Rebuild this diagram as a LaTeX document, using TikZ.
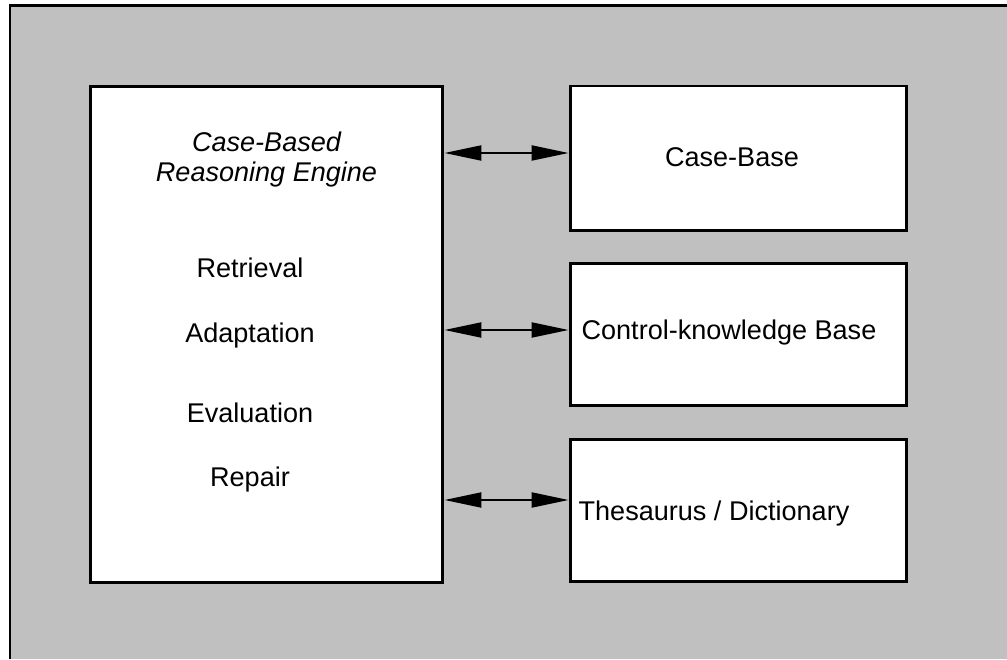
\documentclass[tikz,border=0pt]{standalone}
\usepackage{fontspec}
\setmainfont{Liberation Sans}
\usetikzlibrary{arrows.meta}

\definecolor{panelgray}{HTML}{C0C0C0}

\tikzset{
  unit/.style   = {draw=black, line width=1.7pt, fill=white, inner sep=0pt},
  label/.style  = {anchor=base, font=\fontsize{15.4}{17.6}\selectfont},
  link/.style   = {line width=1.2pt, {Triangle[length=0.74cm,width=0.3cm]}-{Triangle[length=0.74cm,width=0.3cm]}}
}

\begin{document}
\begin{tikzpicture}[x=0.02cm, y=0.02cm]
    % Page and grey panel
    \useasboundingbox (0,0) rectangle (1007,659);
    \fill[white] (0,0) rectangle (1007,659);
    \fill[panelgray] (10,0) rectangle (1007,653);
    \draw[line width=1.7pt] (10,0) -- (10,653) -- (1007,653);

    % Engine box
    \node[unit, minimum width=7.06cm, minimum height=9.94cm] (engine) at (266.5,324.5) {};
    \node[label, align=center, font=\fontsize{15.4}{17.6}\selectfont\itshape] (title) at (266.5,477)
        {Case-Based\\Reasoning Engine};
    \node[label] (retrieval)  at (250,381) {Retrieval};
    \node[label] (adaptation) at (250,316) {Adaptation};
    \node[label] (evaluation) at (250,236) {Evaluation};
    \node[label] (repair)     at (250,172) {Repair};

    % Knowledge sources
    \node[unit, minimum width=6.74cm, minimum height=2.90cm] (casebase) at (738.5,500.5) {};
    \node[unit, minimum width=6.74cm, minimum height=2.86cm] (control)  at (738.5,324.5) {};
    \node[unit, minimum width=6.74cm, minimum height=2.86cm] (thesaurus) at (738.5,148.5) {};
    \node[label] (casebasetext)  at (732,492) {Case-Base};
    \node[label] (controltext)   at (729,319) {Control-knowledge Base};
    \node[label] (thesaurustext) at (714,138) {Thesaurus / Dictionary};

    % Two-way links
    \draw[link] ([yshift=0.11cm]engine.east |- casebase.west) -- ([yshift=0.11cm]casebase.west);
    \draw[link] ([yshift=0.09cm]engine.east |- control.west) -- ([yshift=0.09cm]control.west);
    \draw[link] ([yshift=0.21cm]engine.east |- thesaurus.west) -- ([yshift=0.21cm]thesaurus.west);
\end{tikzpicture}
\end{document}
